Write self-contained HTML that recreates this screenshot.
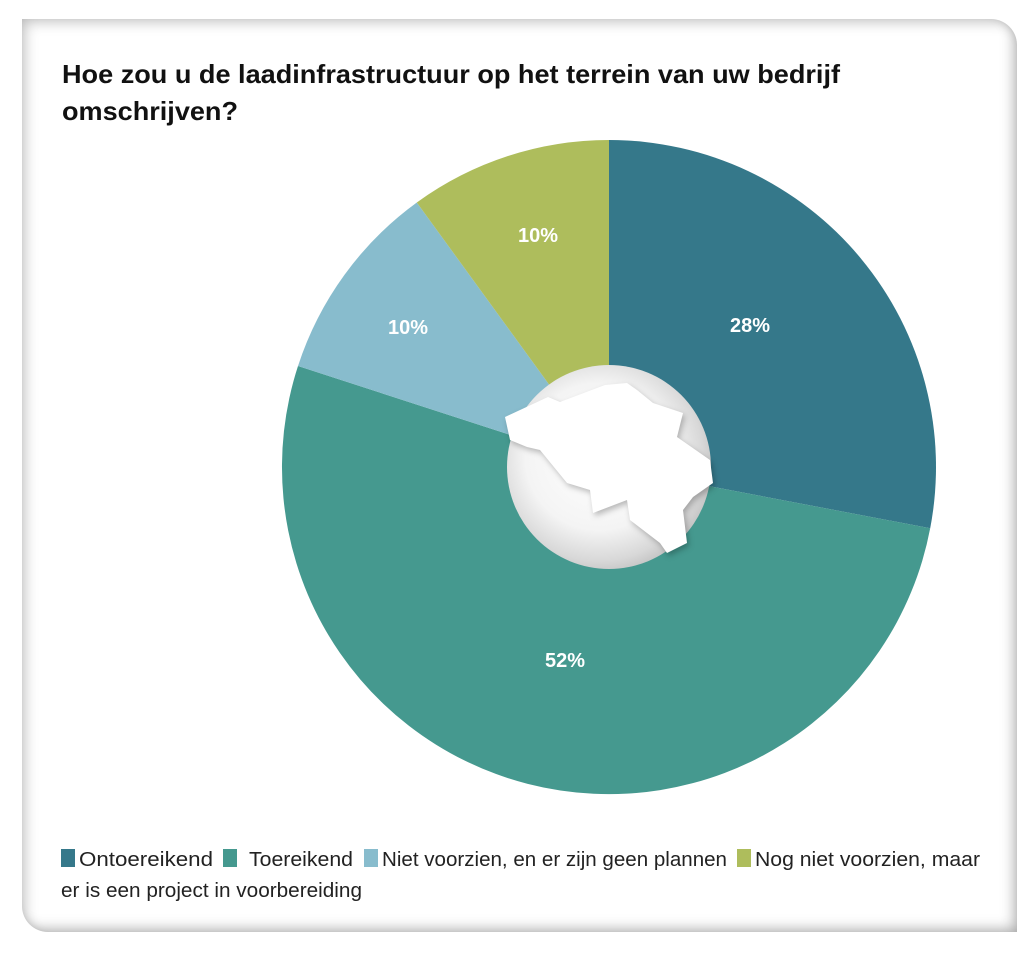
<!DOCTYPE html>
<html><head><meta charset="utf-8"><style>
body{margin:0;width:1036px;height:954px;background:#fff;position:relative;overflow:hidden;font-family:"Liberation Sans",sans-serif}
.card{position:absolute;left:22px;top:19px;width:995px;height:913px;border-radius:0 26px 0 26px;box-shadow:inset 8px 8px 14px -6px rgba(0,0,0,.28),inset -8px -8px 14px -6px rgba(0,0,0,.35);background:#fff}
</style></head><body>
<div class="card"></div>
<svg width="1036" height="954" style="position:absolute;left:0;top:0">
<defs>
<radialGradient id="g" cx="0.45" cy="0.45" r="0.6">
<stop offset="0" stop-color="#fff"/><stop offset="0.6" stop-color="#f4f4f4"/><stop offset="0.85" stop-color="#d8d8d8"/><stop offset="1" stop-color="#bdbdbd"/>
</radialGradient>
</defs>
<text x="62" y="83" font-size="26" font-weight="bold" fill="#111" textLength="778" lengthAdjust="spacingAndGlyphs">Hoe zou u de laadinfrastructuur op het terrein van uw bedrijf</text>
<text x="62" y="120" font-size="26" font-weight="bold" fill="#111" textLength="176" lengthAdjust="spacingAndGlyphs">omschrijven?</text>
<path d="M609,467 L609,140 A327,327 0 0 1 930.2,528.3 Z" fill="#35788a"/>
<path d="M609,467 L930.2,528.3 A327,327 0 1 1 298,366 Z" fill="#45998f"/>
<path d="M609,467 L298,366 A327,327 0 0 1 416.8,202.5 Z" fill="#88bccd"/>
<path d="M609,467 L416.8,202.5 A327,327 0 0 1 609,140 Z" fill="#aebd5c"/>
<circle cx="609" cy="467" r="102" fill="url(#g)"/>
<path d="M505,417 L548,397 L560,402 L605,385 L627,383 L637,390 L653,403 L683,413 L677,437 L710,460 L713,483 L693,497 L683,510 L687,543 L667,553 L660,543 L630,520 L627,500 L593,513 L590,490 L567,483 L540,450 L527,447 L510,440 Z" fill="#fff" style="filter:drop-shadow(2px 3px 3px rgba(0,0,0,.25))"/>
<g fill="#fff" font-size="20" font-weight="bold" text-anchor="middle">
<text x="750" y="332">28%</text>
<text x="565" y="667">52%</text>
<text x="408" y="334">10%</text>
<text x="538" y="242">10%</text>
</g>
<rect x="61" y="849" width="14" height="18" fill="#35788a"/>
<rect x="223" y="849" width="14" height="18" fill="#45998f"/>
<rect x="364" y="849" width="14" height="18" fill="#88bccd"/>
<rect x="737" y="849" width="14" height="18" fill="#aebd5c"/>
<g font-size="20" fill="#222">
<text x="79" y="866" textLength="134" lengthAdjust="spacingAndGlyphs">Ontoereikend</text>
<text x="249" y="866" textLength="104" lengthAdjust="spacingAndGlyphs">Toereikend</text>
<text x="382" y="866" textLength="345" lengthAdjust="spacingAndGlyphs">Niet voorzien, en er zijn geen plannen</text>
<text x="755" y="866" textLength="225" lengthAdjust="spacingAndGlyphs">Nog niet voorzien, maar</text>
<text x="61" y="897" textLength="301" lengthAdjust="spacingAndGlyphs">er is een project in voorbereiding</text>
</g>
</svg>
</body></html>
